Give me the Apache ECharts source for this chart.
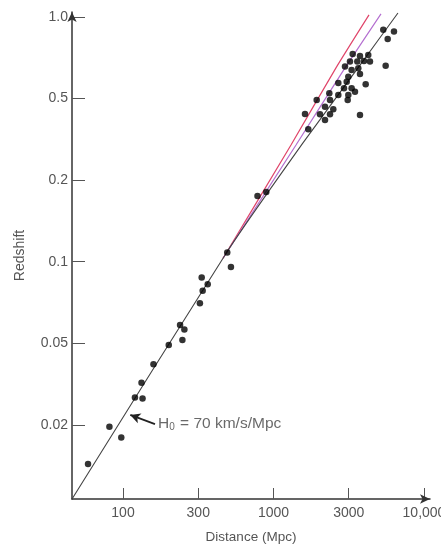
<!DOCTYPE html>
<html>
<head>
<meta charset="utf-8">
<script src="https://cdn.jsdelivr.net/npm/echarts@6/dist/echarts.min.js"></script>
<style>
html,body{margin:0;padding:0;background:#fff;}
#chart{width:441px;height:546px;}
</style>
</head>
<body>
<div id="chart"></div>
<script>
// Axis ticks (the figure spaces these ticks evenly)
const xTicks = [100, 300, 1000, 3000, 10000];
const xTickLabels = ['100', '300', '1000', '3000', '10,000'];
const yTicks = [0.02, 0.05, 0.1, 0.2, 0.5, 1.0];
const yTickLabels = ['0.02', '0.05', '0.1', '0.2', '0.5', '1.0'];

// Galaxies: distance (Mpc) and redshift
const galaxyDistance = [60, 82, 97.5, 119, 133, 131, 156, 195, 238, 230, 245, 308, 322, 349, 317, 477, 506, 774, 891,
  5214, 6187, 5594, 5417, 3196, 3591, 4101, 3060, 3441, 3829, 4214, 2841, 3142, 3495, 2981, 3591, 2576, 2912,
  2799, 3142, 3316, 3934, 2259, 2576, 2981, 2282, 1879, 2954, 2121, 2394, 1971, 2282, 1584, 2121, 3591, 1662];
const galaxyRedshift = [0.0129, 0.0196, 0.0174, 0.0272, 0.0269, 0.0321, 0.0395, 0.0491, 0.0515, 0.0584, 0.0562, 0.0703, 0.0782, 0.0826, 0.0874, 0.1082, 0.0957, 0.1748, 0.181,
  0.896, 0.883, 0.828, 0.660, 0.730, 0.718, 0.724, 0.684, 0.684, 0.688, 0.684, 0.656, 0.637, 0.647, 0.602, 0.616, 0.570, 0.577,
  0.546, 0.546, 0.530, 0.564, 0.523, 0.515, 0.515, 0.492, 0.492, 0.492, 0.456, 0.443, 0.419, 0.419, 0.420, 0.393, 0.415, 0.354];

// Hubble-law line (H0 = 70 km/s/Mpc)
const hubbleDistance = [47.5, 475, 1538, 3480, 6594];
const hubbleRedshift = [0.00871, 0.1087, 0.3037, 0.6485, 1.034];
// Red curve
const redDistance = [446, 1291, 2490, 4149];
const redRedshift = [0.103, 0.2968, 0.6485, 1.017];
// Purple curve
const purpleDistance = [446, 1389, 2841, 5026];
const purpleRedshift = [0.103, 0.2968, 0.6485, 1.026];

// Annotation arrow (tail, tip)
const arrowDistance = [159.5, 111.2];
const arrowRedshift = [0.0202, 0.0224];
const annotationText = ['H', '0', ' = 70 km/s/Mpc'];

// Scale: log between neighbouring ticks, ticks evenly spaced
function toPos(v, ticks) {
  const n = ticks.length;
  let k = 0;
  if (v <= ticks[1]) k = 0;
  else if (v >= ticks[n - 2]) k = n - 2;
  else { while (!(v >= ticks[k] && v < ticks[k + 1])) k++; }
  return k + 1 + Math.log(v / ticks[k]) / Math.log(ticks[k + 1] / ticks[k]);
}
const px = v => toPos(v, xTicks);
const py = v => toPos(v, yTicks);
const pairs = (xs, ys) => xs.map((x, k) => [px(x), py(ys[k])]);

const FONT = 'Liberation Sans, Arial, sans-serif';
const chart = echarts.init(document.getElementById('chart'), null, {renderer: 'canvas'});

const option = {
  animation: false,
  backgroundColor: '#ffffff',
  grid: {left: 72, right: 11, top: 12, bottom: 47, containLabel: false, outerBoundsMode: 'none'},
  xAxis: {
    type: 'value', min: 0.322, max: 5.08,
    name: 'Distance (Mpc)', nameLocation: 'middle', nameGap: 31,
    nameTextStyle: {fontSize: 13.5, color: '#555', fontFamily: FONT},
    axisLine: {show: true, symbol: ['none', 'arrow'], symbolSize: [7, 10], lineStyle: {color: '#333', width: 1.5}},
    axisTick: {show: true, inside: true, length: 11, customValues: xTicks.map((_, k) => k + 1), lineStyle: {color: '#555', width: 1}},
    axisLabel: {show: true, customValues: xTicks.map((_, k) => k + 1), margin: 7, fontSize: 14, color: '#555', fontFamily: FONT,
      formatter: v => xTickLabels[Math.round(v) - 1] || ''},
    splitLine: {show: false}
  },
  yAxis: {
    type: 'value', min: 0.093, max: 6.06,
    name: 'Redshift', nameLocation: 'middle', nameGap: 45, nameRotate: 90,
    nameTextStyle: {fontSize: 14, color: '#555', fontFamily: FONT},
    axisLine: {show: true, symbol: ['none', 'arrow'], symbolSize: [7, 10], lineStyle: {color: '#333', width: 1.5}},
    axisTick: {show: true, inside: true, length: 13, customValues: yTicks.map((_, k) => k + 1), lineStyle: {color: '#555', width: 1}},
    axisLabel: {show: true, customValues: yTicks.map((_, k) => k + 1), margin: 4, fontSize: 14, color: '#555', fontFamily: FONT,
      formatter: v => yTickLabels[Math.round(v) - 1] || ''},
    splitLine: {show: false}
  },
  series: [
    {
      type: 'line', name: 'red', data: pairs(redDistance, redRedshift), showSymbol: false, smooth: 0.2,
      lineStyle: {color: '#e0456a', width: 1.2}, z: 2
    },
    {
      type: 'line', name: 'purple', data: pairs(purpleDistance, purpleRedshift), showSymbol: false, smooth: 0.2,
      lineStyle: {color: '#b46fd0', width: 1.2}, z: 2
    },
    {
      type: 'line', name: 'hubble', data: pairs(hubbleDistance, hubbleRedshift), showSymbol: false, smooth: 0.15,
      lineStyle: {color: '#444', width: 1.1}, z: 3
    },
    {
      type: 'scatter', name: 'galaxies', data: pairs(galaxyDistance, galaxyRedshift), symbolSize: 6.5,
      itemStyle: {color: '#000'}, z: 5
    },
    {
      type: 'line', name: 'arrow', data: [], z: 6,
      markLine: {
        silent: true, animation: false, symbol: ['none', 'arrow'], symbolSize: [8, 10],
        lineStyle: {color: '#222', width: 1.8, type: 'solid'}, label: {show: false},
        data: [[{coord: [px(arrowDistance[0]), py(arrowRedshift[0])]}, {coord: [px(arrowDistance[1]), py(arrowRedshift[1])]}]]
      }
    },
    {
      type: 'scatter', name: 'annotation', data: [[px(arrowDistance[0]), py(arrowRedshift[0])]], symbolSize: 0, z: 6,
      label: {
        show: true, position: 'right', distance: 3,
        formatter: '{h|' + annotationText[0] + '}{s|' + annotationText[1] + '}{h|' + annotationText[2] + '}',
        rich: {
          h: {fontSize: 15.5, color: '#444', fontFamily: FONT},
          s: {fontSize: 10, color: '#444', fontFamily: FONT, padding: [7, 1, 0, 0]}
        }
      }
    }
  ]
};
chart.setOption(option);
</script>
</body>
</html>
